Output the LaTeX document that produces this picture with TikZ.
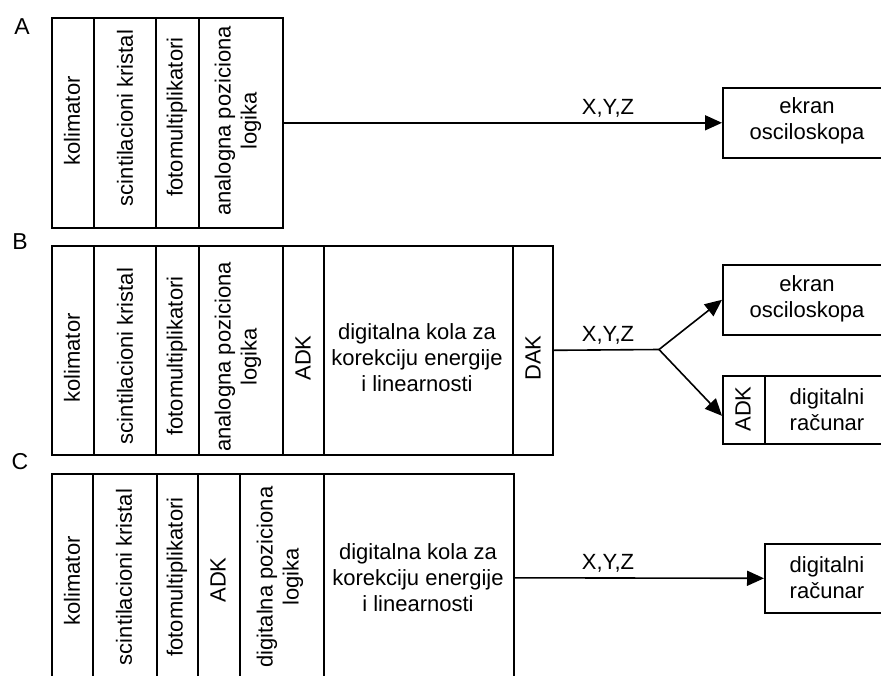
\documentclass[tikz,border=0pt]{standalone}
\usepackage{fontspec}
\setmainfont{Liberation Sans}
\usetikzlibrary{arrows.meta,calc}
\begin{document}
\begin{tikzpicture}[x=1pt,y=-1pt,
  every node/.style={font=\fontsize{22pt}{26pt}\selectfont, inner sep=0pt},
  letter/.style={font=\fontsize{23pt}{26pt}\selectfont},
  box/.style={draw, line width=1.6pt, anchor=north west, inner sep=0pt},
  vtxt/.style={rotate=90, align=center},
  htxt/.style={align=center},
  conn/.style={line width=1.6pt},
  arr/.style={conn, -{Triangle[length=17pt,width=15pt]}}]
\useasboundingbox (0,0) rectangle (881,675);
\clip (0,0) rectangle (881,675);

% ---------- A ----------
\node[letter] (lA) at (22,27) {A};
\node[box, minimum width=42pt, minimum height=210pt] (a1) at (51,17) {};
\node[box, minimum width=62pt, minimum height=210pt] (a2) at (93,17) {};
\node[box, minimum width=43pt, minimum height=210pt] (a3) at (155,17) {};
\node[box, minimum width=84pt, minimum height=210pt] (a4) at (198,17) {};
\node[vtxt] (ta1) at (72,121) {kolimator};
\node[vtxt] (ta2) at (125,118) {scintilacioni kristal};
\node[vtxt] (ta3) at (177,117) {fotomultiplikatori};
\node[vtxt] (ta4) at (238,121) {analogna poziciona\\logika};
\node[box, minimum width=170pt, minimum height=70pt] (ekA) at (722,87) {};
\node[htxt] (tekA) at (807,121) {ekran\\osciloskopa};
\draw[arr] (a4.east) -- (ekA.west);
\node (xA) at (608,108) {X,Y,Z};

% ---------- B ----------
\node[letter] (lB) at (20,242) {B};
\node[box, minimum width=42pt, minimum height=209pt] (b1) at (51,245) {};
\node[box, minimum width=62pt, minimum height=209pt] (b2) at (93,245) {};
\node[box, minimum width=43pt, minimum height=209pt] (b3) at (155,245) {};
\node[box, minimum width=84pt, minimum height=209pt] (b4) at (198,245) {};
\node[box, minimum width=41pt, minimum height=209pt] (b5) at (282,245) {};
\node[box, minimum width=189pt, minimum height=209pt] (b6) at (323,245) {};
\node[box, minimum width=40pt, minimum height=209pt] (b7) at (512,245) {};
\node[vtxt] (tb1) at (72,358) {kolimator};
\node[vtxt] (tb2) at (125,356) {scintilacioni kristal};
\node[vtxt] (tb3) at (177,356) {fotomultiplikatori};
\node[vtxt] (tb4) at (238,357) {analogna poziciona\\logika};
\node[vtxt] (tb5) at (303,358) {ADK};
\node[htxt] (tb6) at (417,358) {digitalna kola za\\korekciju energije\\i linearnosti};
\node[vtxt] (tb7) at (533,358) {DAK};
\node[box, minimum width=170pt, minimum height=70pt] (ekB) at (722,264) {};
\node[htxt] (tekB) at (807,299) {ekran\\osciloskopa};
\node[box, minimum width=42pt, minimum height=68pt] (adkB) at (722,375) {};
\node[box, minimum width=128pt, minimum height=68pt] (racB) at (764,375) {};
\node[vtxt] (tadkB) at (743,409) {ADK};
\node[htxt] (tracB) at (827,410) {digitalni\\računar};
\coordinate (fork) at (659,349.5);
\draw[conn] (b7.east) -- (fork);
\draw[arr] (fork) -- (ekB.west);
\draw[arr] (fork) -- ($(adkB.west)+(0,6)$);
\node (xB) at (608,335) {X,Y,Z};

% ---------- C ----------
\node[letter] (lC) at (20,462) {C};
\node[box, minimum width=41pt, minimum height=208pt] (c1) at (51,473) {};
\node[box, minimum width=64pt, minimum height=208pt] (c2) at (92,473) {};
\node[box, minimum width=41pt, minimum height=208pt] (c3) at (156,473) {};
\node[box, minimum width=42pt, minimum height=208pt] (c4) at (197,473) {};
\node[box, minimum width=84pt, minimum height=208pt] (c5) at (239,473) {};
\node[box, minimum width=190pt, minimum height=208pt] (c6) at (323,473) {};
\node[vtxt] (tc1) at (72,581) {kolimator};
\node[vtxt] (tc2) at (124,577) {scintilacioni kristal};
\node[vtxt] (tc3) at (177,577) {fotomultiplikatori};
\node[vtxt] (tc4) at (218,580) {ADK};
\node[vtxt] (tc5) at (280,577) {digitalna poziciona\\logika};
\node[htxt] (tc6) at (418,578) {digitalna kola za\\korekciju energije\\i linearnosti};
\node[box, minimum width=128pt, minimum height=69pt] (racC) at (764,543) {};
\node[htxt] (tracC) at (827,578) {digitalni\\računar};
\draw[arr] (c6.east) -- (racC.west);
\node (xC) at (608,563) {X,Y,Z};
\end{tikzpicture}
\end{document}
